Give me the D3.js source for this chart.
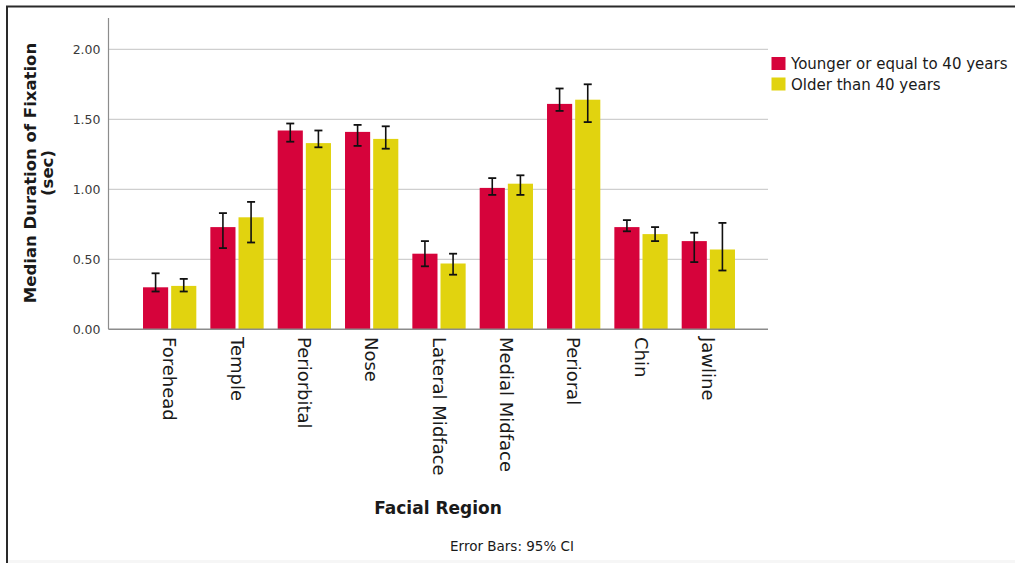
<!DOCTYPE html>
<html>
<head>
<meta charset="utf-8">
<script src="https://cdn.jsdelivr.net/npm/d3@7"></script>
<style>
  html, body { margin: 0; padding: 0; background: #ffffff; }
  svg { display: block; }
  text { font-family: "DejaVu Sans", "Open Sans", sans-serif; fill: #1a1a1a; }
</style>
</head>
<body>
<svg id="chart" width="1015" height="563"></svg>
<script>
// Facial regions along the x axis
const categories = ["Forehead", "Temple", "Periorbital", "Nose", "Lateral Midface",
                    "Medial Midface", "Perioral", "Chin", "Jawline"];
// Age groups (legend order)
const seriesNames = ["Younger or equal to 40 years", "Older than 40 years"];
// Median fixation duration (sec) per region
const youngerValues = [0.30, 0.73, 1.42, 1.41, 0.54, 1.01, 1.61, 0.73, 0.63];
const olderValues   = [0.31, 0.80, 1.33, 1.36, 0.47, 1.04, 1.64, 0.68, 0.57];
// 95% CI bounds
const youngerLow  = [0.27, 0.58, 1.34, 1.31, 0.45, 0.96, 1.56, 0.70, 0.48];
const youngerHigh = [0.40, 0.83, 1.47, 1.46, 0.63, 1.08, 1.72, 0.78, 0.69];
const olderLow    = [0.27, 0.62, 1.30, 1.29, 0.39, 0.96, 1.48, 0.63, 0.42];
const olderHigh   = [0.36, 0.91, 1.42, 1.45, 0.54, 1.10, 1.75, 0.73, 0.76];
// Y axis ticks
const yTicks = [0, 0.5, 1.0, 1.5, 2.0];

const colors = ["#d6033b", "#e1d30f"];

const svg = d3.select("#chart");

// outer frame (left and top edges)
svg.append("path")
  .attr("d", "M7,563 V6.5 H1015")
  .attr("fill", "none")
  .attr("stroke", "#2a2a2a")
  .attr("stroke-width", 2);
svg.append("rect")
  .attr("x", 8).attr("y", 560).attr("width", 1007).attr("height", 3)
  .attr("fill", "#f6f6f6");

const plotLeft = 108.5, plotRight = 768, plotBottom = 329.3;
const y = d3.scaleLinear().domain([0, 2]).range([plotBottom, plotBottom - 280]);

const x0 = d3.scaleBand().domain(categories).range([136, 742])
  .paddingInner(0.2085).paddingOuter(0.10425);
const x1 = d3.scaleBand().domain(seriesNames).range([0, x0.bandwidth()])
  .paddingInner(0.107);

// horizontal gridlines
svg.append("g")
  .selectAll("line")
  .data(yTicks.filter(d => d > 0))
  .join("line")
  .attr("x1", plotLeft).attr("x2", plotRight)
  .attr("y1", d => y(d)).attr("y2", d => y(d))
  .attr("stroke", "#cfcfcf").attr("stroke-width", 1.2);

// y axis
const yAxis = d3.axisLeft(y).tickValues(yTicks).tickFormat(d3.format(".2f")).tickSize(0).tickPadding(8);
const gy = svg.append("g").attr("transform", `translate(${plotLeft},0)`).call(yAxis);
gy.select(".domain").remove();
gy.selectAll("text").style("font-size", "12.5px").style("fill", "#3a3a3a")
  .attr("font-family", "DejaVu Sans, sans-serif");
svg.append("line")
  .attr("x1", plotLeft).attr("x2", plotLeft)
  .attr("y1", 18).attr("y2", plotBottom)
  .attr("stroke", "#8c8c8c").attr("stroke-width", 1.2);

// bars
const groups = categories.map((c, i) => ({
  cat: c,
  items: [
    { s: seriesNames[0], v: youngerValues[i], lo: youngerLow[i], hi: youngerHigh[i], k: 0 },
    { s: seriesNames[1], v: olderValues[i], lo: olderLow[i], hi: olderHigh[i], k: 1 }
  ]
}));

const g = svg.append("g")
  .selectAll("g")
  .data(groups)
  .join("g")
  .attr("transform", d => `translate(${x0(d.cat)},0)`);

g.selectAll("rect")
  .data(d => d.items)
  .join("rect")
  .attr("x", d => x1(d.s))
  .attr("width", x1.bandwidth())
  .attr("y", d => y(d.v))
  .attr("height", d => y(0) - y(d.v))
  .attr("fill", d => colors[d.k]);

// error bars
const eb = g.selectAll("g.err")
  .data(d => d.items)
  .join("g")
  .attr("class", "err")
  .attr("transform", d => `translate(${x1(d.s) + x1.bandwidth() / 2},0)`);
eb.append("line")
  .attr("y1", d => y(d.lo)).attr("y2", d => y(d.hi))
  .attr("stroke", "#111").attr("stroke-width", 1.6);
eb.append("line")
  .attr("x1", -4).attr("x2", 4)
  .attr("y1", d => y(d.hi)).attr("y2", d => y(d.hi))
  .attr("stroke", "#111").attr("stroke-width", 1.8);
eb.append("line")
  .attr("x1", -4).attr("x2", 4)
  .attr("y1", d => y(d.lo)).attr("y2", d => y(d.lo))
  .attr("stroke", "#111").attr("stroke-width", 1.8);

// x axis baseline
svg.append("line")
  .attr("x1", plotLeft).attr("x2", plotRight)
  .attr("y1", plotBottom).attr("y2", plotBottom)
  .attr("stroke", "#8c8c8c").attr("stroke-width", 1.4);

// rotated category labels
svg.append("g")
  .selectAll("text")
  .data(categories)
  .join("text")
  .attr("transform", d => `translate(${x0(d) + x0.bandwidth() / 2},337) rotate(90)`)
  .attr("dy", "0.36em")
  .attr("text-anchor", "start")
  .style("font-size", "18px")
  .text(d => d);

// axis titles
const yTitle = svg.append("text")
  .attr("transform", "translate(30,173) rotate(-90)")
  .attr("text-anchor", "middle")
  .style("font-size", "16.5px").style("font-weight", "bold");
yTitle.append("tspan").attr("x", 0).attr("dy", "0.35em").text("Median Duration of Fixation");
yTitle.append("tspan").attr("x", 0).attr("dy", "1.05em").text("(sec)");

svg.append("text")
  .attr("x", 438).attr("y", 514)
  .attr("text-anchor", "middle")
  .style("font-size", "17px").style("font-weight", "bold")
  .text("Facial Region");

svg.append("text")
  .attr("x", 512).attr("y", 551)
  .attr("text-anchor", "middle")
  .style("font-size", "13.5px")
  .text("Error Bars: 95% CI");

// legend
const legend = svg.append("g")
  .selectAll("g")
  .data(seriesNames)
  .join("g")
  .attr("transform", (d, i) => `translate(771.5,${57 + i * 20.5})`);
legend.append("rect")
  .attr("width", 14).attr("height", 13)
  .attr("fill", (d, i) => colors[i]);
legend.append("text")
  .attr("x", 19.5).attr("y", 12)
  .style("font-size", "15px")
  .text(d => d);
</script>
</body>
</html>
